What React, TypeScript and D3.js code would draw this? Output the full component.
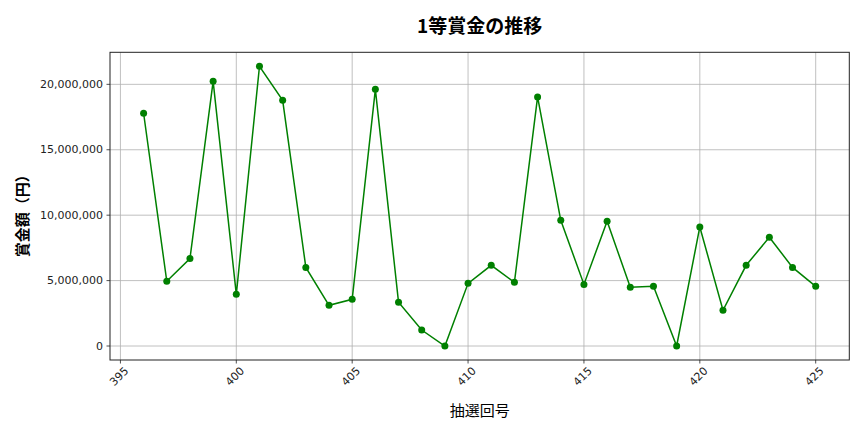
import React from "react";
import * as d3 from "d3";

const draws = [396,397,398,399,400,401,402,403,404,405,406,407,408,409,410,411,412,413,414,415,416,417,418,419,420,421,422,423,424,425];
const prizes = [17790000,4950000,6680000,20230000,3950000,21380000,18780000,6010000,3110000,3570000,19620000,3340000,1220000,0,4790000,6170000,4870000,19040000,9610000,4710000,9530000,4490000,4560000,0,9100000,2730000,6170000,8310000,6010000,4560000];
const xTicks = [395,400,405,410,415,420,425];
const yTicks = [0,5000000,10000000,15000000,20000000];
const title = "1等賞金の推移";
const xLabel = "抽選回号";
const yLabel = "賞金額（円）";

const W = 864, H = 432;
const L = 110, R = 849.3, T = 52.3, B = 360;

export default function App() {
  const xMin = d3.min(draws)!, xMax = d3.max(draws)!;
  const yMin = d3.min(prizes)!, yMax = d3.max(prizes)!;
  const xm = (xMax - xMin) * 0.05, ym = (yMax - yMin) * 0.05;
  const x = d3.scaleLinear().domain([xMin - xm, xMax + xm]).range([L, R]);
  const y = d3.scaleLinear().domain([yMin - ym, yMax + ym]).range([B, T]);
  const line = d3.line<number>().x((_, i) => x(draws[i])).y((d) => y(d));
  const fmt = d3.format(",");
  const font = "'DejaVu Sans', sans-serif";
  const cjk = "'Noto Sans CJK JP', sans-serif";
  return (
    <svg width={W} height={H} style={{ position: "absolute", left: 0, top: 0 }}>
      <rect width={W} height={H} fill="#fff" />
      <g stroke="#b0b0b0" strokeWidth={0.8}>
        {xTicks.map((t) => (
          <line key={"gx" + t} x1={x(t)} x2={x(t)} y1={T} y2={B} />
        ))}
        {yTicks.map((t) => (
          <line key={"gy" + t} x1={L} x2={R} y1={y(t)} y2={y(t)} />
        ))}
      </g>
      <path d={line(prizes) || ""} fill="none" stroke="green" strokeWidth={1.5} />
      {prizes.map((p, i) => (
        <circle key={i} cx={x(draws[i])} cy={y(p)} r={3.5} fill="green" />
      ))}
      <rect x={L} y={T} width={R - L} height={B - T} fill="none" stroke="#222" strokeWidth={1} />
      {xTicks.map((t) => (
        <g key={"xt" + t}>
          <line x1={x(t)} x2={x(t)} y1={B} y2={B + 3.5} stroke="#222" strokeWidth={0.8} />
          <text
            transform={`translate(${x(t) + 3},${B + 6}) rotate(-45)`}
            textAnchor="end"
            dominantBaseline="hanging"
            fontFamily={font}
            fontSize={11}
            fill="#222"
          >
            {t}
          </text>
        </g>
      ))}
      {yTicks.map((t) => (
        <g key={"yt" + t}>
          <line x1={L - 3.5} x2={L} y1={y(t)} y2={y(t)} stroke="#222" strokeWidth={0.8} />
          <text x={L - 7} y={y(t)} textAnchor="end" dominantBaseline="central" fontFamily={font} fontSize={11} fill="#222">
            {fmt(t)}
          </text>
        </g>
      ))}
      <text x={(L + R) / 2} y={24} textAnchor="middle" dominantBaseline="central" fontFamily={cjk} fontWeight="bold" fontSize={19} fill="#000">
        {title}
      </text>
      <text x={(L + R) / 2} y={409} textAnchor="middle" dominantBaseline="central" fontFamily={cjk} fontSize={15} fill="#000">
        {xLabel}
      </text>
      <text
        transform={`translate(21,${(T + B) / 2 + 6}) rotate(-90)`}
        textAnchor="middle"
        dominantBaseline="central"
        fontFamily={cjk}
        fontWeight="bold"
        fontSize={15}
        fill="#000"
      >
        {yLabel}
      </text>
    </svg>
  );
}
